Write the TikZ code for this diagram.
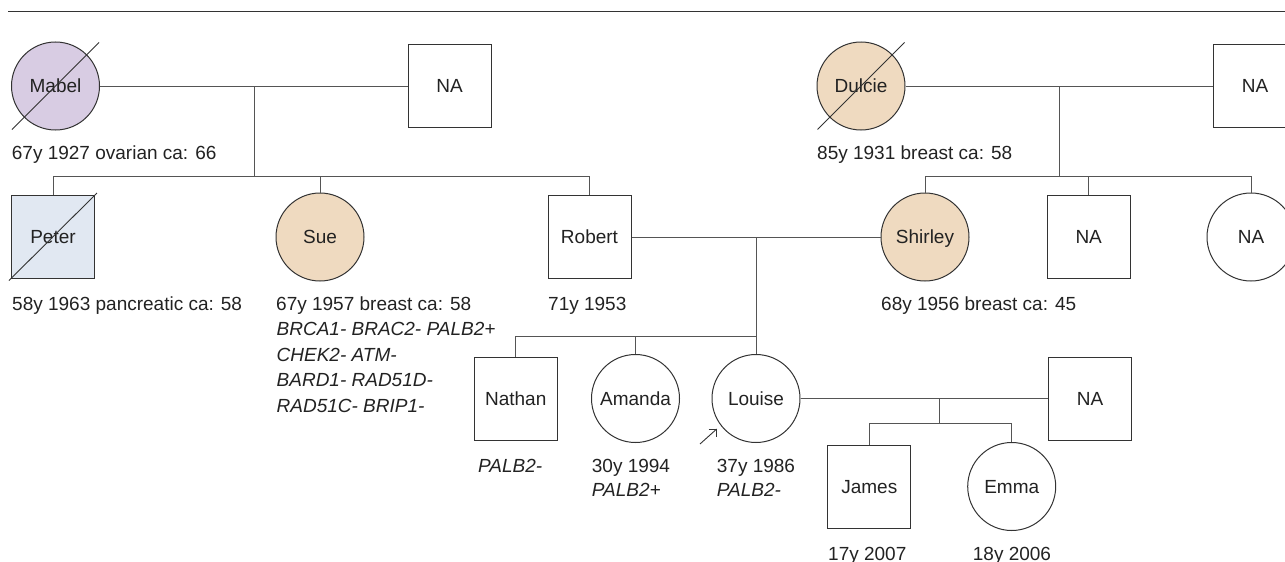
\documentclass[tikz,border=0pt]{standalone}
\usepackage{fontspec}
\setmainfont{Liberation Sans}
\usetikzlibrary{calc}
\definecolor{lin}{HTML}{555555}
\definecolor{edgec}{HTML}{333333}
\definecolor{txt}{HTML}{222222}
\definecolor{lav}{HTML}{D8CCE3}
\definecolor{peach}{HTML}{EFDAC0}
\definecolor{blu}{HTML}{E1E8F2}
\tikzset{
  fem/.style={circle, draw=edgec, line width=1pt, minimum size=88pt, inner sep=0pt,
    text height=13.6pt, text depth=0pt,
    font=\fontsize{19}{23}\selectfont, text=txt},
  mal/.style={rectangle, draw=edgec, line width=1pt, minimum size=83pt, inner sep=0pt,
    text height=13.6pt, text depth=0pt,
    font=\fontsize{19}{23}\selectfont, text=txt},
  conn/.style={draw=lin, line width=1pt},
  strike/.style={draw=edgec, line width=0.9pt},
  lbl/.style={anchor=base west, inner sep=0pt, font=\fontsize{19}{23}\selectfont, text=txt},
  gene/.style={anchor=base west, inner sep=0pt, font=\fontsize{19}{23}\selectfont\itshape, text=txt}
}
\begin{document}
\begin{tikzpicture}[x=1pt,y=-1pt]
\useasboundingbox (0,0) rectangle (1285,562);
% top rule
\coordinate (r1) at (8.3,11);
\coordinate (r2) at (1290,11);
\draw[draw=edgec, line width=1pt] (r1) -- (r2);

% generation 1
\node[fem, fill=lav] (mabel) at (55.5,86) {Mabel};
\node[mal] (na1) at (449.5,86) {NA};
\node[fem, fill=peach] (dulcie) at (861,86) {Dulcie};
\node[mal] (na2) at (1255,86) {NA};

% generation 2
\node[mal, fill=blu] (peter) at (53,237) {Peter};
\node[fem, fill=peach] (sue) at (320,237) {Sue};
\node[mal] (robert) at (589.5,237) {Robert};
\node[fem, fill=peach] (shirley) at (925,237) {Shirley};
\node[mal] (na3) at (1088.7,237) {NA};
\node[fem] (na4) at (1251,237) {NA};

% generation 3
\node[mal] (nathan) at (515.7,398.5) {Nathan};
\node[fem] (amanda) at (635.5,398.5) {Amanda};
\node[fem] (louise) at (756,398.5) {Louise};
\node[mal] (na5) at (1090,398.5) {NA};

% generation 4
\node[mal] (james) at (869.3,486.5) {James};
\node[fem] (emma) at (1011.7,486.5) {Emma};

% deceased strikes
\draw[strike] ($(mabel.center)+(-43.5,43.5)$) -- ($(mabel.center)+(43.5,-43.5)$);
\draw[strike] ($(dulcie.center)+(-43.5,43.5)$) -- ($(dulcie.center)+(43.5,-43.5)$);
\draw[strike] ($(peter.center)+(-44,43.5)$) -- ($(peter.center)+(44,-44)$);

% family 1
\coordinate (m1) at (254,86);
\coordinate (s1) at (254,176.5);
\draw[conn] (mabel.east) -- (na1.west);
\draw[conn] (m1) -- (s1);
\draw[conn] (peter.north) |- (s1);
\draw[conn] (s1) -| (robert.north);
\draw[conn] (sue.north) -- (sue.north |- s1);

% family 2
\coordinate (m2) at (1059.3,86);
\coordinate (s2) at (1059.3,176.5);
\draw[conn] (dulcie.east) -- (na2.west);
\draw[conn] (m2) -- (s2);
\draw[conn] (shirley.north) |- (s2);
\draw[conn] (s2) -| (na4.north);
\draw[conn] (na3.north) -- (na3.north |- s2);

% family 3
\coordinate (m3) at (756,237);
\coordinate (s3) at (756,336);
\draw[conn] (robert.east) -- (shirley.west);
\draw[conn] (m3) -- (louise.north);
\draw[conn] (nathan.north) |- (s3);
\draw[conn] (amanda.north) -- (amanda.north |- s3);

% family 4
\coordinate (m4) at (939.7,398.5);
\coordinate (s4) at (939.7,423.3);
\draw[conn] (louise.east) -- (na5.west);
\draw[conn] (m4) -- (s4);
\draw[conn] (james.north) |- (s4);
\draw[conn] (s4) -| (emma.north);

% proband arrow
\coordinate (pa) at (700,444);
\coordinate (pb) at (716.7,429);
\coordinate (pc) at (708.7,429);
\coordinate (pd) at (716.7,437);
\draw[draw=edgec, line width=0.9pt] (pa) -- (pb);
\draw[draw=edgec, line width=0.9pt] (pc) -- (pb) -- (pd);

% labels
\node[lbl] (tmabel) at (11.7,159) {67y 1927 ovarian ca: 66};
\node[lbl] (tdulcie) at (817,159) {85y 1931 breast ca: 58};
\node[lbl] (tpeter) at (12,310) {58y 1963 pancreatic ca: 58};
\node[lbl] (tsue) at (276,310) {67y 1957 breast ca: 58};
\node[gene] (gsue1) at (276.5,335.8) {BRCA1- BRAC2- PALB2+};
\node[gene] (gsue2) at (276.5,361.3) {CHEK2- ATM-};
\node[gene] (gsue3) at (276.5,386.8) {BARD1- RAD51D-};
\node[gene] (gsue4) at (276.5,412.3) {RAD51C- BRIP1-};
\node[lbl] (trobert) at (548,310) {71y 1953};
\node[lbl] (tshirley) at (881,310) {68y 1956 breast ca: 45};
\node[gene] (gnathan) at (478,472) {PALB2-};
\node[lbl] (tamanda) at (591.7,472.5) {30y 1994};
\node[gene] (gamanda) at (591.7,496.7) {PALB2+};
\node[lbl] (tlouise) at (716.7,472.5) {37y 1986};
\node[gene] (glouise) at (716.7,496.7) {PALB2-};
\node[lbl] (tjames) at (828,560.5) {17y 2007};
\node[lbl] (temma) at (972.7,560.5) {18y 2006};
\end{tikzpicture}
\end{document}
